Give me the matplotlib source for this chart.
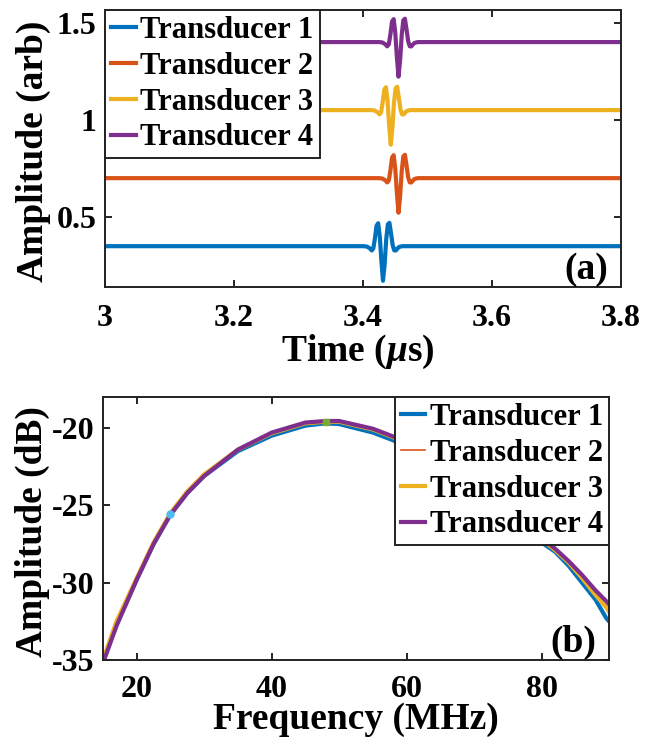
import matplotlib
matplotlib.use("Agg")
import matplotlib.pyplot as plt
import numpy as np

plt.rcParams['font.family'] = ['Liberation Serif', 'DejaVu Serif']
plt.rcParams['font.weight'] = 'bold'
plt.rcParams['axes.unicode_minus'] = False
plt.rcParams['mathtext.fontset'] = 'custom'
plt.rcParams['mathtext.rm'] = 'Liberation Serif:bold'
plt.rcParams['mathtext.it'] = 'Liberation Serif:italic'

# ---------------- data ----------------
labels = ['Transducer 1', 'Transducer 2', 'Transducer 3', 'Transducer 4']
colors = ['#0072BD', '#D95319', '#EDB120', '#7E2F8E']

# (a) time-domain pulses
time_start = 3.0
time_end = 3.8
baselines = [0.35, 0.70, 1.05, 1.40]
pulse_centers = [3.431, 3.455, 3.443, 3.455]
pulse_offset_us = [-0.030, -0.025, -0.020, -0.0175, -0.015, -0.0125, -0.010, -0.0075,
                   -0.005, -0.0025, 0.0, 0.0025, 0.005, 0.0075, 0.010, 0.0125,
                   0.015, 0.0175, 0.020, 0.0225, 0.025, 0.030]
pulse_shape = [0.0, -0.002, -0.012, -0.022, -0.012, 0.040, 0.105, 0.118,
               0.050, -0.075, -0.178, -0.095, 0.035, 0.112, 0.120, 0.065,
               0.005, -0.022, -0.022, -0.012, -0.004, 0.0]
time_ticks = [3.0, 3.2, 3.4, 3.6, 3.8]
time_ticklabels = ['3', '3.2', '3.4', '3.6', '3.8']
amp_ticks = [0.5, 1.0, 1.5]
amp_ticklabels = ['0.5', '1', '1.5']

# (b) spectra
freq_mhz = [15, 17, 20, 22.5, 25, 27.5, 30, 35, 40, 45, 48, 50, 55, 58, 60, 65,
            70, 75, 80, 82, 84, 86, 88, 89.6, 90]
spec_t1 = [-35.1, -32.7, -29.8, -27.5, -25.6, -24.2, -23.1, -21.5, -20.5, -19.85, -19.7,
           -19.75, -20.3, -20.8, -21.2, -22.4, -23.9, -25.6, -27.4, -28.0, -28.9, -30.0,
           -31.1, -32.3, -32.5]
spec_t2 = [-35.0, -32.5, -29.7, -27.4, -25.5, -24.1, -23.0, -21.4, -20.35, -19.7, -19.6,
           -19.6, -20.1, -20.6, -21.0, -22.2, -23.7, -25.4, -27.2, -27.9, -28.7, -29.7,
           -30.8, -31.6, -31.9]
spec_t3 = [-35.0, -32.5, -29.7, -27.4, -25.5, -24.1, -23.0, -21.4, -20.35, -19.7, -19.6,
           -19.6, -20.1, -20.6, -21.0, -22.2, -23.7, -25.4, -27.2, -27.9, -28.7, -29.7,
           -30.8, -31.6, -31.9]
spec_t4 = [-35.2, -32.8, -29.8, -27.5, -25.6, -24.2, -23.1, -21.4, -20.3, -19.65, -19.55,
           -19.55, -20.05, -20.55, -20.9, -22.1, -23.6, -25.3, -27.1, -27.8, -28.6, -29.5,
           -30.5, -31.2, -31.4]
spectra = [spec_t1, spec_t2, spec_t3, spec_t4]
spec_lw = [3.0, 1.2, 3.0, 3.0]
marker_circle = (25.0, -25.55)
marker_square = (48.0, -19.6)
freq_ticks = [20, 40, 60, 80]
freq_ticklabels = ['20', '40', '60', '80']
db_ticks = [-35, -30, -25, -20]
db_ticklabels = ['-35', '-30', '-25', '-20']

# ---------------- figure ----------------
W, H = 645, 742
fig = plt.figure(figsize=(W / 100, H / 100), dpi=100)

def frac(l, t, r, b):
    return [l / W, 1 - b / H, (r - l) / W, (b - t) / H]

tick_fs = 23
label_fs = 27
leg_fs = 22

def style_axes(ax):
    ax.tick_params(direction='in', length=5, width=1.2, top=True, right=True,
                   labelsize=tick_fs, pad=6, colors='black')
    for s in ax.spines.values():
        s.set_linewidth(1.4)
        s.set_color('#222222')
    for lab in ax.get_xticklabels() + ax.get_yticklabels():
        lab.set_fontweight('bold')

# (a)
ax1 = fig.add_axes(frac(105, 10, 621, 287))
for i in range(4):
    t = [time_start] + [pulse_centers[i] + o for o in pulse_offset_us] + [time_end]
    y = [baselines[i]] + [baselines[i] + v for v in pulse_shape] + [baselines[i]]
    ax1.plot(t, y, color=colors[i], lw=3.0, label=labels[i], solid_joinstyle='round')
ax1.set_xlim(3.0, 3.8)
ax1.set_ylim(0.14, 1.565)
ax1.set_xticks(time_ticks)
ax1.set_xticklabels(time_ticklabels)
ax1.set_yticks(amp_ticks)
ax1.set_yticklabels(amp_ticklabels)
style_axes(ax1)
ax1.tick_params(axis='x', pad=12)
ax1.set_xlabel(r'Time ($\mu$s)', fontsize=label_fs, fontweight='bold')
ax1.xaxis.set_label_coords(0.49, -0.165)
ax1.set_ylabel('Amplitude (arb)', fontsize=label_fs, fontweight='bold')
ax1.yaxis.set_label_coords(-0.105, 0.49)
leg1 = ax1.legend(loc='upper left', borderaxespad=0, frameon=True,
                  fancybox=False, framealpha=1, edgecolor='#222222',
                  handlelength=0.8, handletextpad=0.15, labelspacing=0.22,
                  borderpad=0.2, prop={'weight': 'bold', 'size': leg_fs})
leg1.get_frame().set_linewidth(1.4)
ax1.text(0.975, 0.0, '(a)', transform=ax1.transAxes, ha='right', va='bottom',
         fontsize=label_fs, fontweight='bold')

# (b)
ax2 = fig.add_axes(frac(103, 397, 609, 660))
for i in range(4):
    ax2.plot(freq_mhz, spectra[i], color=colors[i], lw=spec_lw[i], label=labels[i])
ax2.plot([marker_circle[0]], [marker_circle[1]], 'o', ms=5, mfc='#4DBEEE',
         mec='#4DBEEE')
ax2.plot([marker_square[0]], [marker_square[1]], 's', ms=5, mfc='#77AC30',
         mec='#77AC30')
ax2.set_xlim(15, 90)
ax2.set_ylim(-35, -18)
ax2.set_xticks(freq_ticks)
ax2.set_xticklabels(freq_ticklabels)
ax2.set_yticks(db_ticks)
ax2.set_yticklabels(db_ticklabels)
style_axes(ax2)
ax2.tick_params(axis='x', pad=11)
ax2.set_xlabel('Frequency (MHz)', fontsize=label_fs, fontweight='bold')
ax2.xaxis.set_label_coords(0.5, -0.16)
ax2.set_ylabel('Amplitude (dB)', fontsize=label_fs, fontweight='bold')
ax2.yaxis.set_label_coords(-0.105, 0.49)
leg2 = ax2.legend(loc='upper right', borderaxespad=0, frameon=True,
                  fancybox=False, framealpha=1, edgecolor='#222222',
                  handlelength=0.8, handletextpad=0.15, labelspacing=0.22,
                  borderpad=0.2, prop={'weight': 'bold', 'size': leg_fs})
leg2.get_frame().set_linewidth(1.4)
ax2.text(0.975, 0.0, '(b)', transform=ax2.transAxes, ha='right', va='bottom',
         fontsize=label_fs, fontweight='bold')

fig.savefig('out.png', dpi=100)
